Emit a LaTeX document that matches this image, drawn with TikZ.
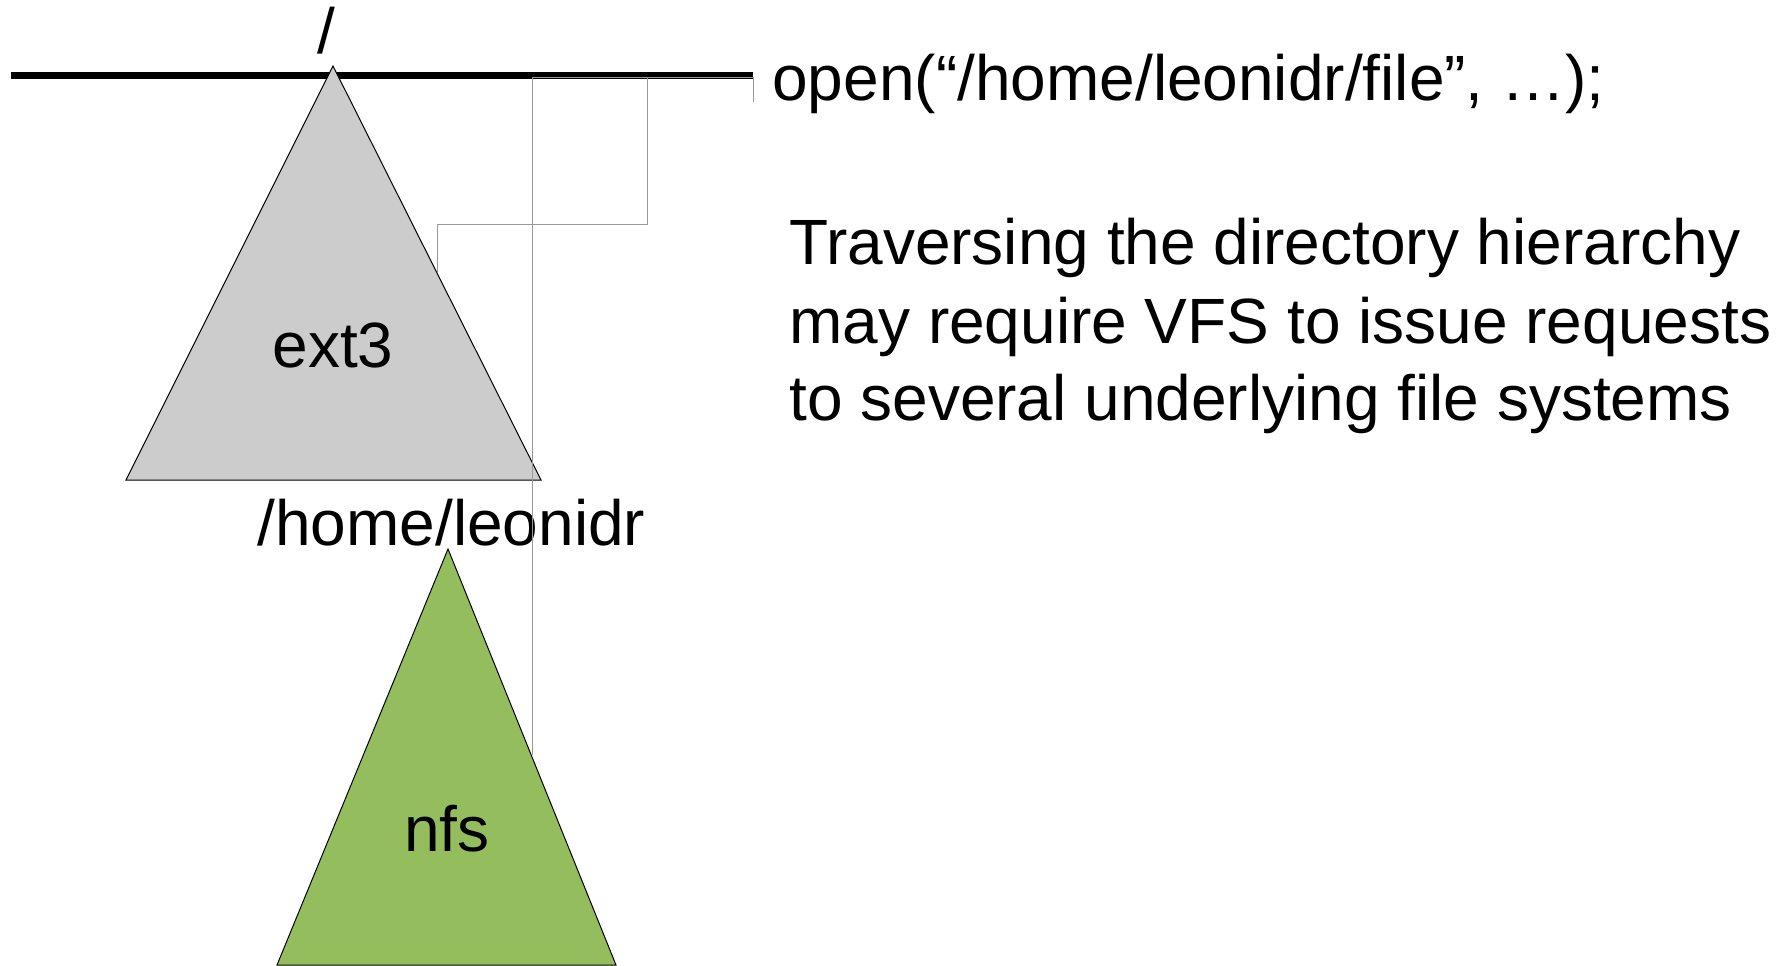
\documentclass[tikz,border=0pt]{standalone}
\usepackage{fontspec}
\setmainfont{Liberation Sans}
\definecolor{extgray}{RGB}{204,204,204}
\definecolor{nfsgreen}{RGB}{148,190,94}
\begin{document}
\begin{tikzpicture}[x=0.5pt, y=-0.5pt,
    lbl/.style={inner sep=0pt, font=\fontsize{32}{38}\selectfont},
    fstree/.style={draw=black, line width=0.5pt},
    walk/.style={draw=black!40, line width=0.5pt}]
    \useasboundingbox (0,0) rectangle (1780,965);

    % root of the tree
    \draw[line width=3.5pt] (11,75) -- (753,75);
    \node[lbl, anchor=base] (root) at (326,53) {/};

    % the two file systems
    \filldraw[fstree, fill=extgray] (333,66) -- (541,480) -- (126,480) -- cycle;
    \node[lbl, anchor=base] (ext) at (333,367) {ext3};
    \node[lbl, anchor=base west] (mnt) at (257,545) {/home/leonidr};
    \filldraw[fstree, fill=nfsgreen] (448,549) -- (616,965) -- (277,965) -- cycle;
    \node[lbl, anchor=base] (nfs) at (447,851) {nfs};

    % lookup path
    \coordinate (w0) at (753,102);
    \coordinate (w1) at (753,77);
    \coordinate (w2) at (647,77);
    \coordinate (w3) at (532,77);
    \coordinate (w4) at (532,755);
    \coordinate (w5) at (647,224);
    \coordinate (w6) at (437,224);
    \coordinate (w7) at (437,273);
    \draw[walk] (w0) -- (w1) -- (w3) -- (w4);
    \draw[walk] (w2) -- (w5) -- (w6) -- (w7);

    % text
    \node[lbl, anchor=base west] (call) at (772,100) {open(“/home/leonidr/file”, …);};
    \node[lbl, anchor=base west] (txta) at (789,264) {Traversing the directory hierarchy};
    \node[lbl, anchor=base west] (txtb) at (789,343) {may require VFS to issue requests};
    \node[lbl, anchor=base west] (txtc) at (789,420) {to several underlying file systems};
\end{tikzpicture}
\end{document}
